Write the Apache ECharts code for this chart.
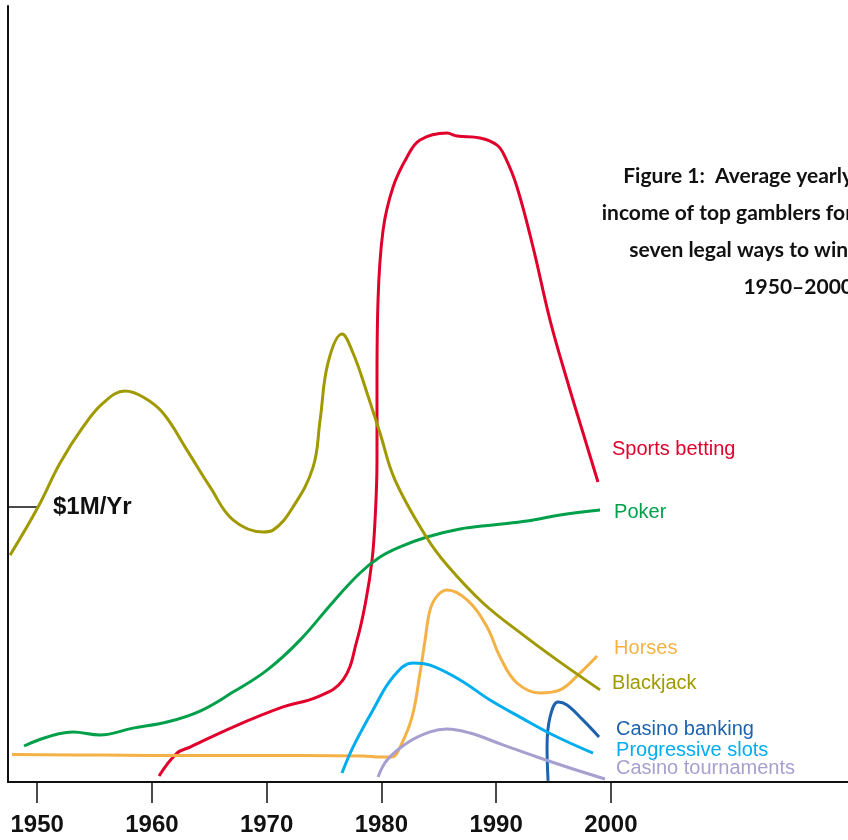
<!DOCTYPE html>
<html>
<head>
<meta charset="utf-8">
<script src="https://cdn.jsdelivr.net/npm/echarts@6/dist/echarts.min.js"></script>
<style>
html,body{margin:0;padding:0;background:#fff;}
#chart{width:848px;height:840px;}
</style>
</head>
<body>
<div id="chart"></div>
<script>
// Values: [year, average yearly income in $ millions]
const yearTicks = [1950, 1960, 1970, 1980, 1990, 2000];
const yTickValues = [1];
const yTickLabel = '$1M/Yr';
const titleLines = ['Figure 1:  Average yearly', 'income of top gamblers for', 'seven legal ways to win,', '1950\u20132000'];

const sportsBetting = [[1960.62,0.022],[1962.19,0.105],[1963.33,0.127],[1967.07,0.2],[1971.43,0.273],[1974.39,0.309],[1976.66,0.371],[1977.88,0.516],[1978.66,0.662],[1979.19,0.807],[1979.45,0.953],[1979.62,1.171],[1979.62,1.462],[1979.71,1.753],[1980.15,2.007],[1981.02,2.164],[1982.24,2.273],[1983.37,2.335],[1985.72,2.36],[1986.6,2.349],[1988.6,2.342],[1990.08,2.316],[1990.78,2.273],[1991.82,2.164],[1993.22,1.945],[1994.7,1.68],[1996.18,1.462],[1997.58,1.269],[1998.88,1.091]];
const poker = [[1948.86,0.131],[1953.13,0.182],[1955.48,0.171],[1958.36,0.196],[1961.32,0.218],[1964.2,0.258],[1967.07,0.327],[1970.04,0.407],[1972.91,0.516],[1975.79,0.655],[1978.14,0.76],[1979.88,0.818],[1981.63,0.855],[1983.98,0.891],[1986.86,0.92],[1989.73,0.935],[1992.7,0.949],[1995.57,0.971],[1999.06,0.989]];
const horses = [[1947.81,0.1],[1955.48,0.098],[1964.2,0.096],[1972.91,0.096],[1978.4,0.095],[1979.88,0.091],[1980.93,0.091],[1981.63,0.127],[1982.67,0.236],[1983.37,0.396],[1983.81,0.516],[1984.24,0.625],[1984.85,0.676],[1985.72,0.698],[1987.47,0.662],[1989.21,0.564],[1990.34,0.455],[1991.82,0.36],[1993.83,0.324],[1995.57,0.335],[1997.31,0.396],[1998.8,0.458]];
const blackjack = [[1947.64,0.825],[1950.08,1.0],[1952.0,1.16],[1954.0,1.291],[1955.74,1.378],[1957.66,1.422],[1959.23,1.4],[1960.97,1.342],[1963.06,1.207],[1965.07,1.073],[1967.07,0.953],[1969.69,0.909],[1970.56,0.916],[1972.3,1.0],[1974.05,1.145],[1974.66,1.316],[1975.35,1.524],[1976.57,1.629],[1977.53,1.56],[1978.75,1.415],[1979.88,1.269],[1981.19,1.098],[1983.98,0.887],[1985.72,0.789],[1988.86,0.651],[1992.35,0.535],[1995.57,0.436],[1999.06,0.335]];
const casinoBanking = [[1994.53,0.004],[1994.44,0.127],[1994.7,0.236],[1995.4,0.291],[1996.18,0.28],[1997.58,0.225],[1998.97,0.164]];
const progressiveSlots = [[1976.57,0.033],[1977.53,0.127],[1979.27,0.262],[1981.02,0.382],[1982.76,0.433],[1984.24,0.425],[1986.86,0.371],[1989.47,0.298],[1992.09,0.236],[1994.96,0.171],[1998.45,0.105]];
const casinoTournaments = [[1979.71,0.018],[1980.5,0.08],[1982.24,0.142],[1984.24,0.182],[1985.72,0.193],[1987.73,0.178],[1990.6,0.135],[1993.57,0.091],[1996.44,0.051],[1999.49,0.011]];

const seriesDefs = [
  {name:'Sports betting', data:sportsBetting, color:'#e0002b', offset:[9,-33]},
  {name:'Poker', data:poker, color:'#00a04a', offset:[9,2]},
  {name:'Horses', data:horses, color:'#f4b146', offset:[12,-8]},
  {name:'Blackjack', data:blackjack, color:'#a09a00', offset:[7,-6]},
  {name:'Casino banking', data:casinoBanking, color:'#1e62ad', offset:[12,-7]},
  {name:'Progressive slots', data:progressiveSlots, color:'#00adef', offset:[18,-3]},
  {name:'Casino tournaments', data:casinoTournaments, color:'#a79fd0', offset:[6,-10]}
];

const chart = echarts.init(document.getElementById('chart'), null, {renderer:'canvas'});
const option = {
  animation:false,
  backgroundColor:'#fff',
  grid:{left:8, right:0, top:6, bottom:58, containLabel:false},
  xAxis:{
    type:'value', min:1947.46, max:2020.67,
    axisLine:{show:true, lineStyle:{color:'#111', width:2}},
    axisTick:{show:true, customValues:yearTicks, length:21, lineStyle:{color:'#111', width:1.5}},
    axisLabel:{show:true, customValues:yearTicks, margin:31, formatter:v=>String(Math.round(v)),
      fontFamily:'Liberation Sans, Arial, sans-serif', fontWeight:'bold', fontSize:24, color:'#111'},
    splitLine:{show:false}
  },
  yAxis:{
    type:'value', min:0, max:2.822,
    axisLine:{show:true, lineStyle:{color:'#111', width:2}},
    axisTick:{show:true, inside:true, customValues:yTickValues, length:29, lineStyle:{color:'#111', width:1.5}},
    axisLabel:{show:true, inside:true, customValues:yTickValues, margin:45, formatter:()=>yTickLabel,
      fontFamily:'Liberation Sans, Arial, sans-serif', fontWeight:'bold', fontSize:24, color:'#111'},
    splitLine:{show:false}
  },
  graphic:[{
    type:'text', x:853, y:157.5,
    style:{text:titleLines.join('\n'), align:'right', verticalAlign:'top', lineHeight:37, fill:'#111',
      font:'bold 21px Lato, "Open Sans", sans-serif'}
  }],
  series: seriesDefs.map(s=>({
    type:'line', name:s.name, data:s.data, smooth:0.4, showSymbol:false, symbol:'none',
    lineStyle:{color:s.color, width:3}, itemStyle:{color:s.color},
    clip:true,
    endLabel:{show:true, formatter:s.name, distance:5, offset:s.offset, color:s.color,
      fontFamily:'Liberation Sans, Arial, sans-serif', fontSize:20}
  }))
};
chart.setOption(option);
</script>
</body>
</html>
